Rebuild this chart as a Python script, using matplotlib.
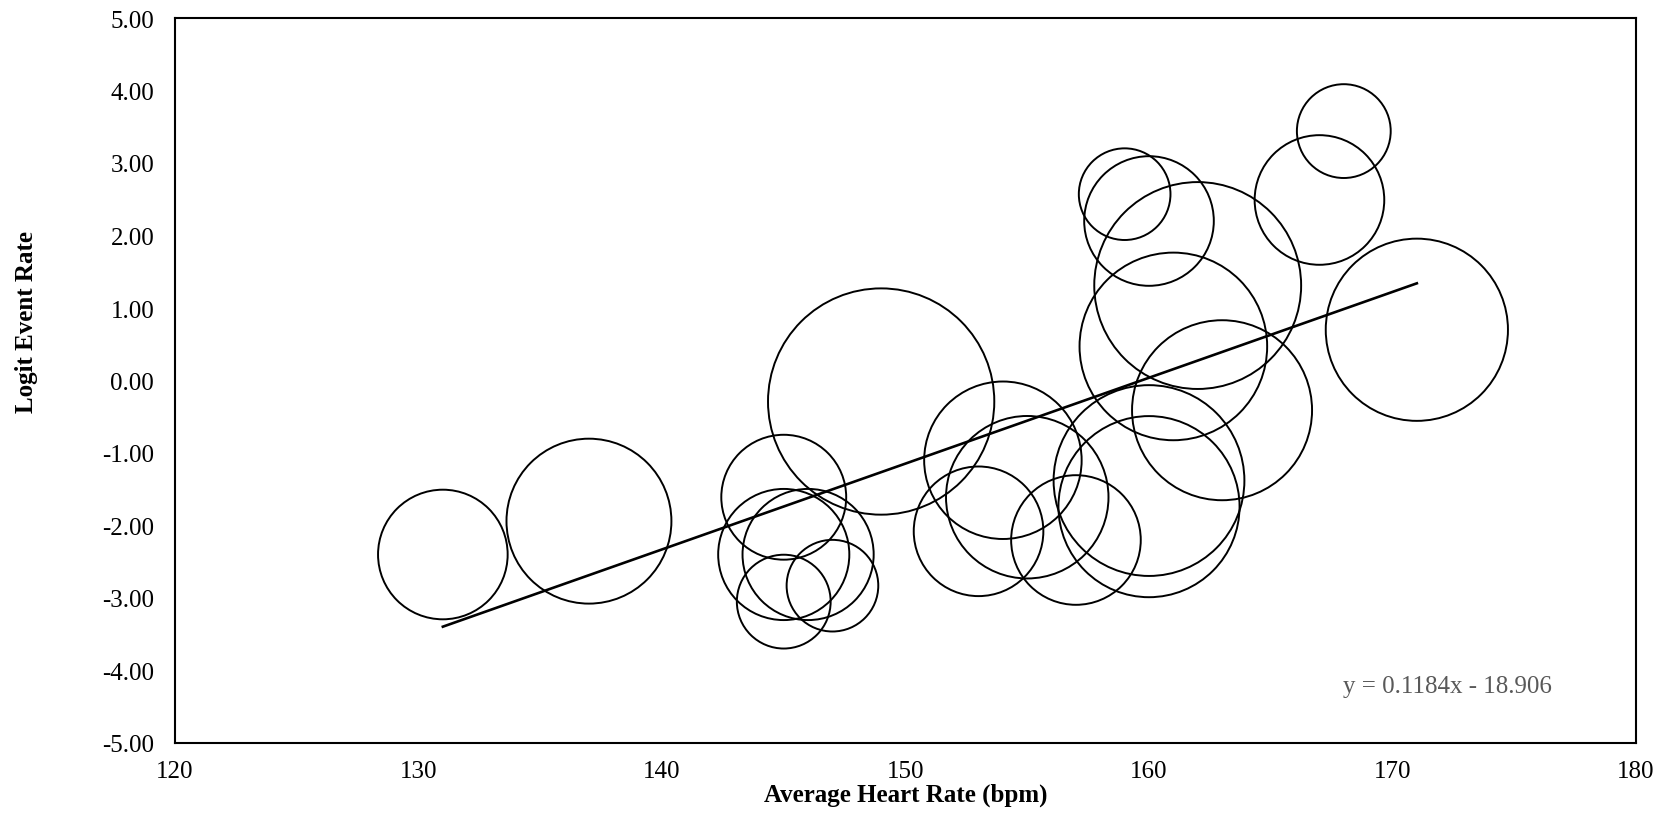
import matplotlib
matplotlib.use("Agg")
import matplotlib.pyplot as plt
import numpy as np

plt.rcParams['font.family'] = ['Liberation Serif', 'DejaVu Serif']
plt.rcParams['axes.unicode_minus'] = False

# Data
heart_rate = [131, 137, 145, 145, 146, 145, 147, 149, 153, 154, 155, 157,
              160, 160, 159, 160, 161, 162, 163, 167, 168, 171]
logit_rate = [-2.40, -1.94, -1.61, -2.40, -2.40, -3.05, -2.83, -0.29, -2.08, -1.10,
              -1.61, -2.20, -1.38, -1.74, 2.57, 2.20, 0.47, 1.31, -0.41, 2.49, 3.44, 0.70]
bubble_size = [42, 68, 39, 43, 43, 22, 21, 128, 42, 62, 66, 42,
               91, 82, 21, 42, 88, 107, 81, 42, 22, 83]
slope = 0.1184
intercept = -18.906
x_ticks = [120, 130, 140, 150, 160, 170, 180]
y_ticks = [-5, -4, -3, -2, -1, 0, 1, 2, 3, 4, 5]

W, H, DPI = 1669, 829, 100
fig = plt.figure(figsize=(W / DPI, H / DPI), dpi=DPI)
ax = fig.add_axes([175 / W, 1 - 744 / H, (1636 - 175) / W, (744 - 19) / H])

# bubble radius in px = 10*sqrt(size); convert to points^2 for scatter
r_px = 10 * np.sqrt(np.array(bubble_size, dtype=float))
s = (2 * r_px * 72 / DPI) ** 2
ax.scatter(heart_rate, logit_rate, s=s, facecolors='none', edgecolors='black',
           linewidths=1.4, zorder=2)

xs = np.array([min(heart_rate), max(heart_rate)], dtype=float)
ax.plot(xs, slope * xs + intercept, color='black', linewidth=1.9, zorder=3)

ax.text(172.26, -4.22, "y = 0.1184x - 18.906", color='#595959', fontsize=18,
        ha='center', va='center')

ax.set_xlim(120, 180)
ax.set_ylim(-5, 5)
ax.set_xticks(x_ticks)
ax.set_yticks(y_ticks)
ax.set_yticklabels([f"{v:.2f}" for v in y_ticks])
ax.tick_params(length=0, labelsize=18, colors='black')
ax.tick_params(axis='y', pad=15)
ax.tick_params(axis='x', pad=12)
for sp in ax.spines.values():
    sp.set_linewidth(1.5)
    sp.set_color('black')

fig.text(905.5 / W, 1 - 795 / H, "Average Heart Rate (bpm)", fontsize=18,
         fontweight='bold', ha='center', va='center')
fig.text(27 / W, 1 - 322 / H, "Logit Event Rate", fontsize=18, fontweight='bold',
         ha='center', va='center', rotation=90)

fig.savefig("out.png", dpi=DPI, facecolor='white')
